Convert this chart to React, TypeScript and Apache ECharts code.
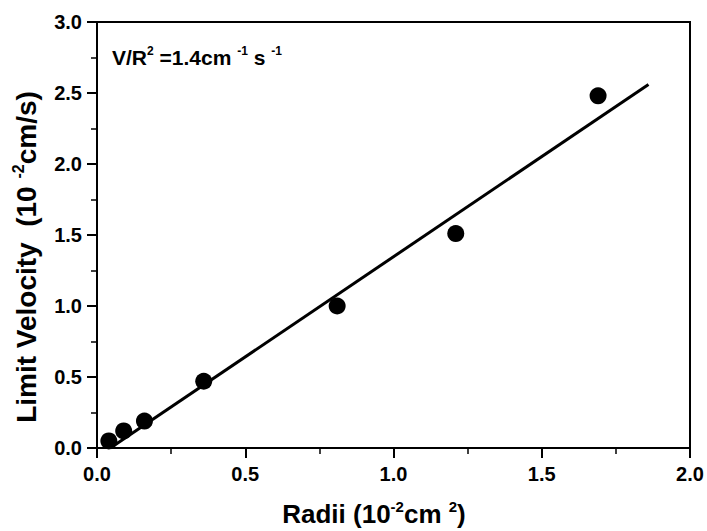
import React, { useEffect, useRef } from "react";
import * as echarts from "echarts";

const radiiSq = [0.04, 0.09, 0.16, 0.36, 0.81, 1.21, 1.69];
const velocity = [0.05, 0.12, 0.19, 0.47, 1.0, 1.51, 2.48];
const fitX = [0.045, 1.86];
const fitY = [0.0, 2.56];
const xTicks = ["0.0", "0.5", "1.0", "1.5", "2.0"];

const FONT = "'Liberation Sans', Arial, sans-serif";

export default function App() {
  const ref = useRef<HTMLDivElement>(null);
  useEffect(() => {
    if (!ref.current) return;
    const chart = echarts.init(ref.current, null, { renderer: "svg" });
    const axisCommon = {
      axisLine: { show: true, lineStyle: { color: "#000", width: 2 } },
      axisTick: { show: true, inside: false, length: 10, lineStyle: { color: "#000", width: 2 } },
      minorTick: { show: true, splitNumber: 2, length: 6, lineStyle: { color: "#000", width: 1.5 } },
      splitLine: { show: false },
      axisLabel: { color: "#000", fontFamily: FONT, fontWeight: "bold", fontSize: 20, margin: 15 },
    };
    chart.setOption({
      animation: false,
      backgroundColor: "#fff",
      grid: {
        left: 97,
        right: 17,
        top: 22,
        bottom: 83,
        show: true,
        borderColor: "#000",
        borderWidth: 2,
      },
      xAxis: {
        type: "value",
        min: 0,
        max: 2,
        interval: 0.5,
        ...axisCommon,
        axisLabel: {
          ...axisCommon.axisLabel,
          margin: 16,
          formatter: (v: number) => xTicks[Math.round(v / 0.5)] ?? v.toFixed(1),
        },
      },
      yAxis: {
        type: "value",
        min: 0,
        max: 3,
        interval: 0.5,
        ...axisCommon,
        axisLabel: { ...axisCommon.axisLabel, formatter: (v: number) => v.toFixed(1) },
      },
      series: [
        {
          type: "line",
          data: fitX.map((x, i) => [x, fitY[i]]),
          showSymbol: false,
          symbol: "none",
          lineStyle: { color: "#000", width: 3 },
          z: 2,
        },
        {
          type: "scatter",
          data: radiiSq.map((x, i) => [x, velocity[i]]),
          symbol: "circle",
          symbolSize: 17,
          itemStyle: { color: "#000", opacity: 1 },
          z: 3,
        },
      ],
      graphic: [
        {
          type: "text",
          left: 112,
          top: 45,
          style: {
            text: "{n|V/R}{s|2}{n| =1.4cm }{s|-1}{n| s }{s|-1}",
            rich: {
              n: { fontFamily: FONT, fontWeight: "bold", fontSize: 21, fill: "#000", height: 24 },
              s: { fontFamily: FONT, fontWeight: "bold", fontSize: 12, fill: "#000", padding: [0, 0, 12, 0] },
            },
          },
        },
        {
          type: "text",
          x: 374,
          y: 514,
          style: {
            text: "{n|Radii (10}{s|-2}{n|cm }{s|2}{n|)}",
            align: "center",
            verticalAlign: "middle",
            rich: {
              n: { fontFamily: FONT, fontWeight: "bold", fontSize: 26, fill: "#000" },
              s: { fontFamily: FONT, fontWeight: "bold", fontSize: 15, fill: "#000", padding: [0, 0, 15, 0] },
            },
          },
        },
        {
          type: "text",
          x: 26,
          y: 257,
          rotation: Math.PI / 2,
          style: {
            text: "{n|Limit Velocity  (10 }{s|-2}{n|cm/s)}",
            align: "center",
            verticalAlign: "middle",
            rich: {
              n: { fontFamily: FONT, fontWeight: "bold", fontSize: 28, fill: "#000" },
              s: { fontFamily: FONT, fontWeight: "bold", fontSize: 16, fill: "#000", padding: [0, 0, 16, 0] },
            },
          },
        },
      ],
    });
    return () => chart.dispose();
  }, []);
  return <div ref={ref} style={{ width: 707, height: 531, position: "absolute", left: 0, top: 0 }} />;
}
